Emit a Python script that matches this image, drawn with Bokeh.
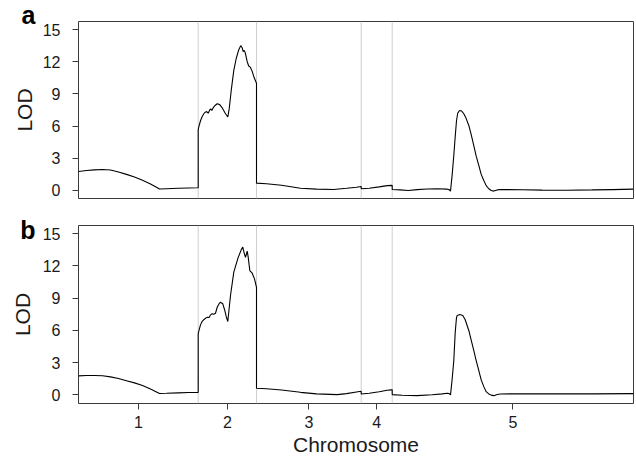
from bokeh.plotting import figure
from bokeh.layouts import column
from bokeh.models import FixedTicker, Span, Range1d, LinearAxis
from bokeh.embed import file_html
from bokeh.resources import INLINE

FONT = "Liberation Sans"

chrom_names = ["1", "2", "3", "4", "5"]
chrom_len = [119.7, 58.3, 104.7, 31.0, 241.3]
lod_ticks = [0, 3, 6, 9, 12, 15]

# ---- panel a: positions (cM within chromosome) and LOD ----
a_chr1_pos = [0, 8, 16, 24, 32, 40, 48, 56, 64, 72, 78, 81, 88, 100, 110, 119.7]
a_chr1_lod = [1.77, 1.86, 1.92, 1.95, 1.9, 1.72, 1.5, 1.25, 0.95, 0.6, 0.3, 0.13, 0.16, 0.2, 0.23, 0.25]
a_chr2_pos = [0, 0.8, 2.3, 4, 5.6, 7, 8.5, 10, 11.5, 12.5, 13.7, 15, 16.5, 19, 21.5, 24, 27, 29.6,
              31, 33, 35.6, 38, 40.5, 42.5, 44, 45, 46, 47, 49, 50.5, 52, 54, 56, 58.3]
a_chr2_lod = [5.65, 6.0, 6.5, 6.9, 7.15, 7.3, 7.35, 7.2, 7.5, 7.6, 7.45, 7.7, 7.9, 8.08, 8.0, 7.7, 7.2, 6.85,
              7.6, 9.3, 11.2, 12.3, 13.1, 13.5, 13.3, 12.95, 13.05, 12.85, 12.0, 11.6, 11.5, 11.1, 10.5, 10.0]
a_chr3_pos = [0, 10, 25, 44, 60, 77, 90, 100, 104.7]
a_chr3_lod = [0.68, 0.62, 0.48, 0.21, 0.12, 0.09, 0.2, 0.3, 0.37]
a_chr4_pos = [0, 8, 18, 26, 31]
a_chr4_lod = [0.16, 0.2, 0.33, 0.45, 0.47]
a_chr5_pos = [0, 8, 16, 25, 35, 45, 55, 57, 58.3, 60, 61.6, 63, 64.3, 65.5, 67.3, 69.5, 71.6, 74, 76.6,
              79, 81.6, 84, 86.6, 89, 91.6, 94, 96.6, 99, 101.6, 105, 108.3, 130, 150, 175, 200, 220, 241.3]
a_chr5_lod = [0.09, 0.05, 0.0, 0.08, 0.13, 0.16, 0.12, 0.08, -0.06, 1.5, 3.26, 5.0, 6.5, 7.2, 7.46, 7.4, 7.15, 6.7, 6.06,
              5.2, 4.19, 3.2, 2.33, 1.5, 0.93, 0.45, 0.16, 0.0, -0.06, 0.05, 0.09, 0.06, 0.03, 0.02, 0.05, 0.08, 0.12]

# ---- panel b ----
b_chr1_pos = [0, 8, 16, 24, 32, 40, 48, 56, 64, 72, 78, 81, 88, 100, 110, 119.7]
b_chr1_lod = [1.77, 1.8, 1.81, 1.78, 1.68, 1.52, 1.32, 1.12, 0.88, 0.55, 0.28, 0.13, 0.15, 0.19, 0.22, 0.24]
b_chr2_pos = [0, 0.8, 2.3, 4, 5.6, 7.5, 9.6, 11, 12.3, 14, 15.5, 17.3, 19, 21, 22.3, 24.6, 26.6, 28, 29.6,
              32.3, 35.6, 40, 43, 44.6, 46, 47.3, 49, 50, 51.6, 54, 56.3, 58.3]
b_chr2_lod = [5.68, 6.0, 6.52, 6.85, 7.0, 7.15, 7.23, 7.2, 7.45, 7.55, 7.5, 7.6, 8.16, 8.5, 8.63, 8.48, 7.86, 7.3, 6.83,
              9.25, 11.43, 12.8, 13.5, 13.76, 13.2, 12.8, 13.38, 12.83, 11.58, 11.33, 10.8, 10.0]
b_chr3_pos = [0, 10, 25, 44, 60, 80.7, 90, 100, 104.7]
b_chr3_lod = [0.62, 0.58, 0.45, 0.24, 0.1, 0.03, 0.12, 0.27, 0.34]
b_chr4_pos = [0, 8, 18, 26, 30, 31]
b_chr4_lod = [0.09, 0.15, 0.3, 0.43, 0.47, 0.47]
b_chr5_pos = [0, 10, 25, 40, 50, 55, 57, 58.3, 60, 61.6, 63, 64.3, 65, 67.6, 70.6, 73, 76.6, 79, 81.6,
              84, 86.6, 89, 91.6, 94, 96.6, 99, 101.6, 105, 108.3, 130, 160, 200, 241.3]
b_chr5_lod = [0.03, -0.03, -0.07, 0.02, 0.1, 0.15, 0.12, 0.0, 1.5, 3.2, 5.8, 7.2, 7.4, 7.48, 7.4, 7.0, 6.0, 5.1, 4.13,
              3.2, 2.26, 1.4, 0.77, 0.3, 0.09, -0.02, -0.07, 0.03, 0.09, 0.1, 0.1, 0.1, 0.12]

offsets = [0.0]
for L in chrom_len[:-1]:
    offsets.append(offsets[-1] + L)
total_len = offsets[-1] + chrom_len[-1]
centers = [round(o + L / 2.0, 3) for o, L in zip(offsets, chrom_len)]


def genome_xy(pos_lists, lod_lists):
    xs, ys = [], []
    for off, pos, lod in zip(offsets, pos_lists, lod_lists):
        xs.extend([off + p for p in pos])
        ys.extend(lod)
    return xs, ys


a_x, a_y = genome_xy([a_chr1_pos, a_chr2_pos, a_chr3_pos, a_chr4_pos, a_chr5_pos],
                     [a_chr1_lod, a_chr2_lod, a_chr3_lod, a_chr4_lod, a_chr5_lod])
b_x, b_y = genome_xy([b_chr1_pos, b_chr2_pos, b_chr3_pos, b_chr4_pos, b_chr5_pos],
                     [b_chr1_lod, b_chr2_lod, b_chr3_lod, b_chr4_lod, b_chr5_lod])


def make_panel(height, border_top, border_bottom, yr, xs, ys, letter_text, letter_y, label_bounds):
    p = figure(width=636, height=height, x_range=Range1d(0, total_len), y_range=Range1d(*yr),
               output_backend="svg", toolbar_location=None,
               min_border_left=78, min_border_right=3,
               min_border_top=border_top, min_border_bottom=border_bottom)
    p.grid.visible = False
    p.outline_line_color = "#3a3a3a"
    p.outline_line_width = 1
    p.background_fill_color = "white"
    p.border_fill_color = "white"
    for b in offsets[1:]:
        p.add_layout(Span(location=b, dimension="height", line_color="#cfcfcf", line_width=1, level="underlay"))
    p.line(xs, ys, line_color="black", line_width=1.1)

    # inner axis: LOD tick numbers
    ya = p.yaxis[0]
    ya.ticker = FixedTicker(ticks=lod_ticks)
    ya.axis_line_color = None
    ya.major_tick_out = 6
    ya.major_tick_in = 0
    ya.minor_tick_line_color = None
    ya.major_tick_line_color = "#3a3a3a"
    ya.major_label_text_font = FONT
    ya.major_label_text_font_size = "16px"
    ya.major_label_text_color = "#1a1a1a"
    ya.major_label_standoff = 12

    # outer axis: panel letter as its only tick label, "LOD" as its axis label
    oa = LinearAxis(ticker=FixedTicker(ticks=[letter_y]), bounds=label_bounds,
                    major_label_overrides={letter_y: letter_text})
    oa.axis_line_color = None
    oa.major_tick_line_color = None
    oa.minor_tick_line_color = None
    oa.major_tick_out = 0
    oa.major_tick_in = 0
    oa.major_label_text_font = FONT
    oa.major_label_text_font_size = "25px"
    oa.major_label_text_font_style = "bold"
    oa.major_label_text_color = "black"
    oa.major_label_standoff = 4
    oa.axis_label = "LOD"
    oa.axis_label_text_font = FONT
    oa.axis_label_text_font_size = "21px"
    oa.axis_label_text_font_style = "normal"
    oa.axis_label_text_color = "#1a1a1a"
    oa.axis_label_standoff = -17
    p.add_layout(oa, "left")
    return p


# the top letter sits above the frame edge: an empty second line lifts it
p1 = make_panel(211, 21, 13, (-0.75, 15.75), a_x, a_y, "a\n", 14.88, (0.63, 15.95))
p1.xaxis.visible = False

p2 = make_panel(247, 14, 44, (-0.8, 15.77), b_x, b_y, "b", 15.31, (1.14, 15.5))
xa = p2.xaxis[0]
xa.ticker = FixedTicker(ticks=centers)
xa.major_label_overrides = {c: n for c, n in zip(centers, chrom_names)}
xa.axis_line_color = None
xa.major_tick_out = 6
xa.major_tick_in = 0
xa.minor_tick_line_color = None
xa.major_tick_line_color = "#3a3a3a"
xa.major_label_text_font = FONT
xa.major_label_text_font_size = "16px"
xa.major_label_text_color = "#1a1a1a"
xa.major_label_standoff = 6
xa.axis_label = "Chromosome"
xa.axis_label_text_font = FONT
xa.axis_label_text_font_size = "21px"
xa.axis_label_text_font_style = "normal"
xa.axis_label_text_color = "#1a1a1a"
xa.axis_label_standoff = 2

layout = column(p1, p2, spacing=0)

open("out.html", "w").write(file_html(layout, INLINE))
